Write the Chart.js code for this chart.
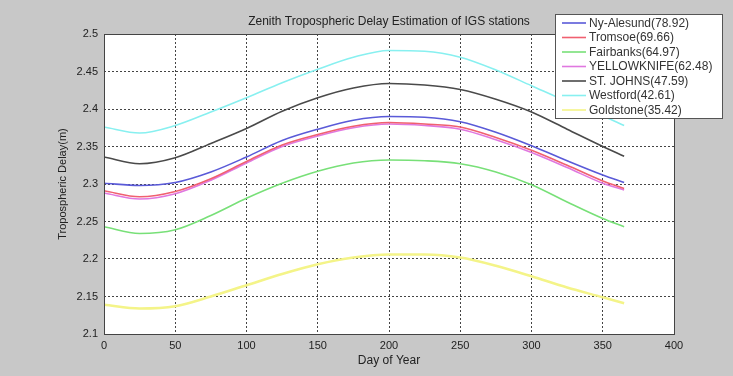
<!DOCTYPE html>
<html>
<head>
<meta charset="utf-8">
<script src="https://cdn.jsdelivr.net/npm/chart.js@4.4.1/dist/chart.umd.min.js"></script>
<style>
  html, body { margin: 0; padding: 0; background: #c8c8c8; }
  #wrap { width: 733px; height: 376px; }
</style>
</head>
<body>
<div id="wrap"><canvas id="myChart" width="733" height="376"></canvas></div>
<script>
const days = [0, 25, 50, 75, 100, 125, 150, 175, 200, 225, 250, 275, 300, 325, 350, 365];

const stations = ['Ny-Alesund(78.92)', 'Tromsoe(69.66)', 'Fairbanks(64.97)', 'YELLOWKNIFE(62.48)',
                  'ST. JOHNS(47.59)', 'Westford(42.61)', 'Goldstone(35.42)'];

const nyAlesund   = [2.301, 2.298, 2.302, 2.316, 2.336, 2.358, 2.373, 2.385, 2.390, 2.389, 2.383, 2.369, 2.351, 2.331, 2.312, 2.302];
const tromsoe     = [2.291, 2.283, 2.290, 2.307, 2.330, 2.352, 2.366, 2.377, 2.382, 2.380, 2.376, 2.362, 2.345, 2.325, 2.304, 2.294];
const fairbanks   = [2.243, 2.234, 2.239, 2.258, 2.281, 2.301, 2.317, 2.328, 2.332, 2.331, 2.327, 2.316, 2.299, 2.276, 2.254, 2.243];
const yellowknife = [2.288, 2.280, 2.287, 2.305, 2.328, 2.350, 2.364, 2.375, 2.380, 2.378, 2.373, 2.359, 2.342, 2.322, 2.301, 2.292];
const stJohns     = [2.336, 2.327, 2.335, 2.354, 2.374, 2.397, 2.415, 2.428, 2.434, 2.432, 2.426, 2.413, 2.396, 2.373, 2.350, 2.337];
const westford    = [2.376, 2.368, 2.378, 2.396, 2.415, 2.435, 2.453, 2.469, 2.478, 2.477, 2.469, 2.452, 2.431, 2.410, 2.391, 2.378];
const goldstone   = [2.139, 2.134, 2.137, 2.150, 2.165, 2.180, 2.193, 2.202, 2.206, 2.206, 2.202, 2.191, 2.177, 2.162, 2.149, 2.141];

const xTicks = [0, 50, 100, 150, 200, 250, 300, 350, 400];
const yTicks = [2.1, 2.15, 2.2, 2.25, 2.3, 2.35, 2.4, 2.45, 2.5];

const series = [nyAlesund, tromsoe, fairbanks, yellowknife, stJohns, westford, goldstone];
const colors = ['#5a5ad8', '#f06070', '#78e078', '#e078e0', '#4a4a4a', '#88f0f0', '#f4f488'];

const FONT = 'Liberation Sans, Arial, sans-serif';

const datasets = series.map((vals, i) => ({
    label: stations[i],
    data: days.map((d, j) => ({ x: d, y: vals[j] })),
    borderColor: colors[i],
    backgroundColor: colors[i],
    borderWidth: i == 6 ? 2.5 : 1.6,
    pointRadius: 0,
    cubicInterpolationMode: 'monotone',
    fill: false
}));

// gray figure, white axes, title and matlab-ish legend box
const figurePlugin = {
    id: 'figure',
    beforeDraw(chart) {
        const c = chart.ctx, a = chart.chartArea;
        c.save();
        c.fillStyle = '#c8c8c8';
        c.fillRect(0, 0, chart.width, chart.height);
        c.fillStyle = '#ffffff';
        c.fillRect(a.left, a.top, a.right - a.left, a.bottom - a.top);
        c.restore();
    },
    afterDraw(chart) {
        const c = chart.ctx, a = chart.chartArea;
        c.save();
        c.strokeStyle = '#444';
        c.lineWidth = 1;
        c.strokeRect(a.left + 0.5, a.top + 0.5, a.right - a.left, a.bottom - a.top);

        c.fillStyle = '#222';
        c.font = '12px ' + FONT;
        c.textAlign = 'center';
        c.textBaseline = 'middle';
        c.fillText('Zenith Tropospheric Delay Estimation of IGS stations', (a.left + a.right) / 2, 22);

        // legend
        const lx = 555, ly = 14, lw = 167, lh = 104;
        c.fillStyle = '#fff';
        c.fillRect(lx, ly, lw, lh);
        c.strokeStyle = '#555';
        c.strokeRect(lx + 0.5, ly + 0.5, lw, lh);
        c.textAlign = 'left';
        chart.data.datasets.forEach((ds, i) => {
            const y = 23 + i * 14.5;
            c.strokeStyle = ds.borderColor;
            c.lineWidth = 1.6;
            c.beginPath();
            c.moveTo(562, y);
            c.lineTo(586, y);
            c.stroke();
            c.fillStyle = '#333';
            c.fillText(ds.label, 589, y + 0.5);
        });
        c.restore();
    }
};

const ctx = document.getElementById('myChart').getContext('2d');
const myChart = new Chart(ctx, {
    type: 'line',
    data: { datasets },
    options: {
        responsive: false,
        animation: false,
        layout: { padding: { top: 34, right: 59, left: 52, bottom: 0 } },
        plugins: {
            legend: { display: false },
            title: { display: false },
            tooltip: { enabled: false }
        },
        scales: {
            x: {
                type: 'linear',
                min: 0,
                max: 400,
                afterBuildTicks: s => { s.ticks = xTicks.map(v => ({ value: v })); },
                afterFit: s => { s.height = 42; },
                grid: { color: '#444', borderDash: [2, 2], drawTicks: false },
                border: { display: false, dash: [2, 2] },
                ticks: { color: '#222', font: { family: FONT, size: 11 }, padding: 5, maxRotation: 0 },
                title: { display: true, text: 'Day of Year', color: '#222', font: { family: FONT, size: 12 }, padding: { top: 0, bottom: 8 } }
            },
            y: {
                min: 2.1,
                max: 2.5,
                afterBuildTicks: s => { s.ticks = yTicks.map(v => ({ value: v })); },
                afterFit: s => { s.width = 52; },
                grid: { color: '#444', borderDash: [2, 2], drawTicks: false },
                border: { display: false, dash: [2, 2] },
                ticks: {
                    color: '#222', font: { family: FONT, size: 11 }, padding: 6,
                    callback: v => String(Number(v.toFixed(2)))
                },
                title: { display: true, text: 'Tropospheric Delay(m)', color: '#222', font: { family: FONT, size: 11 }, padding: { top: 4, bottom: 0 } }
            }
        }
    },
    plugins: [figurePlugin]
});
</script>
</body>
</html>
